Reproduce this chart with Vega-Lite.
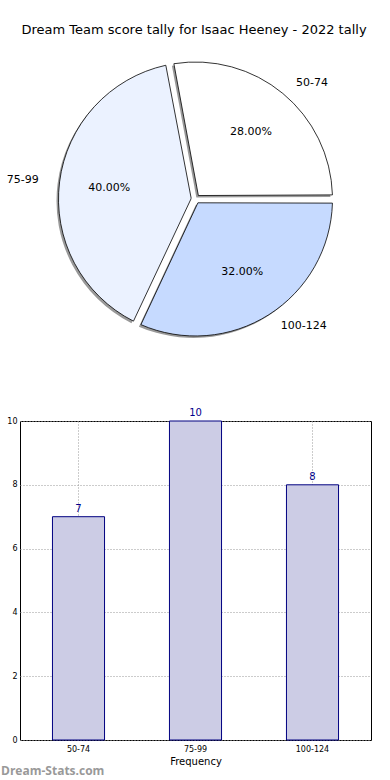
{
  "$schema": "https://vega.github.io/schema/vega-lite/v6.json",
  "padding": {"left": 0, "top": 24, "right": 0, "bottom": 0},
  "title": {"text": "Dream Team score tally for Isaac Heeney - 2022 tally", "fontSize": 13, "font": "DejaVu Sans", "fontWeight": "normal", "color": "#000000", "anchor": "middle", "offset": 10, "dx": 8},
  "config": {"font": "DejaVu Sans", "view": {"stroke": null}, "concat": {"spacing": 70}},
  "datasets": {
    "tally": [
      {"range": "50-74", "count": 7, "share": 0.28},
      {"range": "75-99", "count": 10, "share": 0.40},
      {"range": "100-124", "count": 8, "share": 0.32}
    ]
  },
  "bounds": "flush",
  "vconcat": [
    {
      "width": 351,
      "height": 304,
      "data": {"name": "tally"},
      "encoding": {
        "theta": {"field": "count", "type": "quantitative", "stack": true, "scale": {"range": [-0.1885, 6.0947]}},
        "order": {"field": "count", "type": "quantitative", "sort": "ascending"},
        "detail": {"field": "range", "type": "nominal"}
      },
      "layer": [
        {"mark": {"type": "arc", "outerRadius": 137, "innerRadius": 4.5, "padAngle": 0.06, "fill": "#999999", "xOffset": -2, "yOffset": 2}},
        {"mark": {"type": "arc", "outerRadius": 137, "innerRadius": 4.5, "padAngle": 0.06, "stroke": "#000000", "strokeWidth": 0.8},
          "encoding": {"color": {"field": "range", "type": "nominal", "scale": {"domain": ["50-74", "75-99", "100-124"], "range": ["#ffffff", "#ebf2ff", "#c6daff"]}, "legend": null}}},
        {"mark": {"type": "text", "radius": 87, "fontSize": 11, "color": "#000000"},
          "encoding": {"text": {"field": "share", "type": "quantitative", "format": ".2%"}}},
        {"mark": {"type": "text", "radius": 150, "fontSize": 11, "color": "#000000", "align": "left", "dx": 5},
          "encoding": {"text": {"condition": {"test": "datum.range !== '75-99'", "field": "range", "type": "nominal"}, "value": ""}}},
        {"mark": {"type": "text", "radius": 152, "fontSize": 11, "color": "#000000", "align": "right", "dx": -6},
          "encoding": {"text": {"condition": {"test": "datum.range === '75-99'", "field": "range", "type": "nominal"}, "value": ""}}}
      ]
    },
    {
      "width": 351,
      "height": 319,
      "data": {"name": "tally"},
      "view": {"stroke": "#000000", "strokeWidth": 1},
      "title": {"text": "Dream-Stats.com", "orient": "bottom", "anchor": "start", "frame": "group", "dx": -19, "font": "Open Sans", "fontSize": 12, "fontWeight": "bold", "color": "#999999", "offset": 0},
      "encoding": {
        "x": {"field": "range", "type": "nominal", "sort": ["50-74", "75-99", "100-124"],
          "scale": {"paddingInner": 0, "paddingOuter": 0},
          "axis": {"title": "Frequency", "labelAngle": 0, "labelFontSize": 8, "labelColor": "#000000", "titleFontSize": 10, "titleFontWeight": "normal", "titleColor": "#000000", "ticks": false, "labelPadding": 5, "grid": true, "bandPosition": 0.5, "gridDash": [1, 2], "gridColor": "#999999", "domain": false, "titlePadding": 3}},
        "y": {"field": "count", "type": "quantitative", "scale": {"domain": [0, 10]},
          "axis": {"title": null, "values": [0, 2, 4, 6, 8, 10], "labelFontSize": 8, "labelColor": "#000000", "ticks": false, "labelPadding": 3, "gridDash": [1, 2], "gridColor": "#999999", "domain": false}}
      },
      "layer": [
        {"mark": {"type": "bar", "width": {"band": 0.445}, "fill": "#ccccE5", "stroke": "#000080", "strokeWidth": 1}},
        {"mark": {"type": "text", "baseline": "alphabetic", "dy": -5, "fontSize": 10, "color": "#00008b"},
          "encoding": {"text": {"field": "count", "type": "quantitative"}}}
      ]
    }
  ]
}
